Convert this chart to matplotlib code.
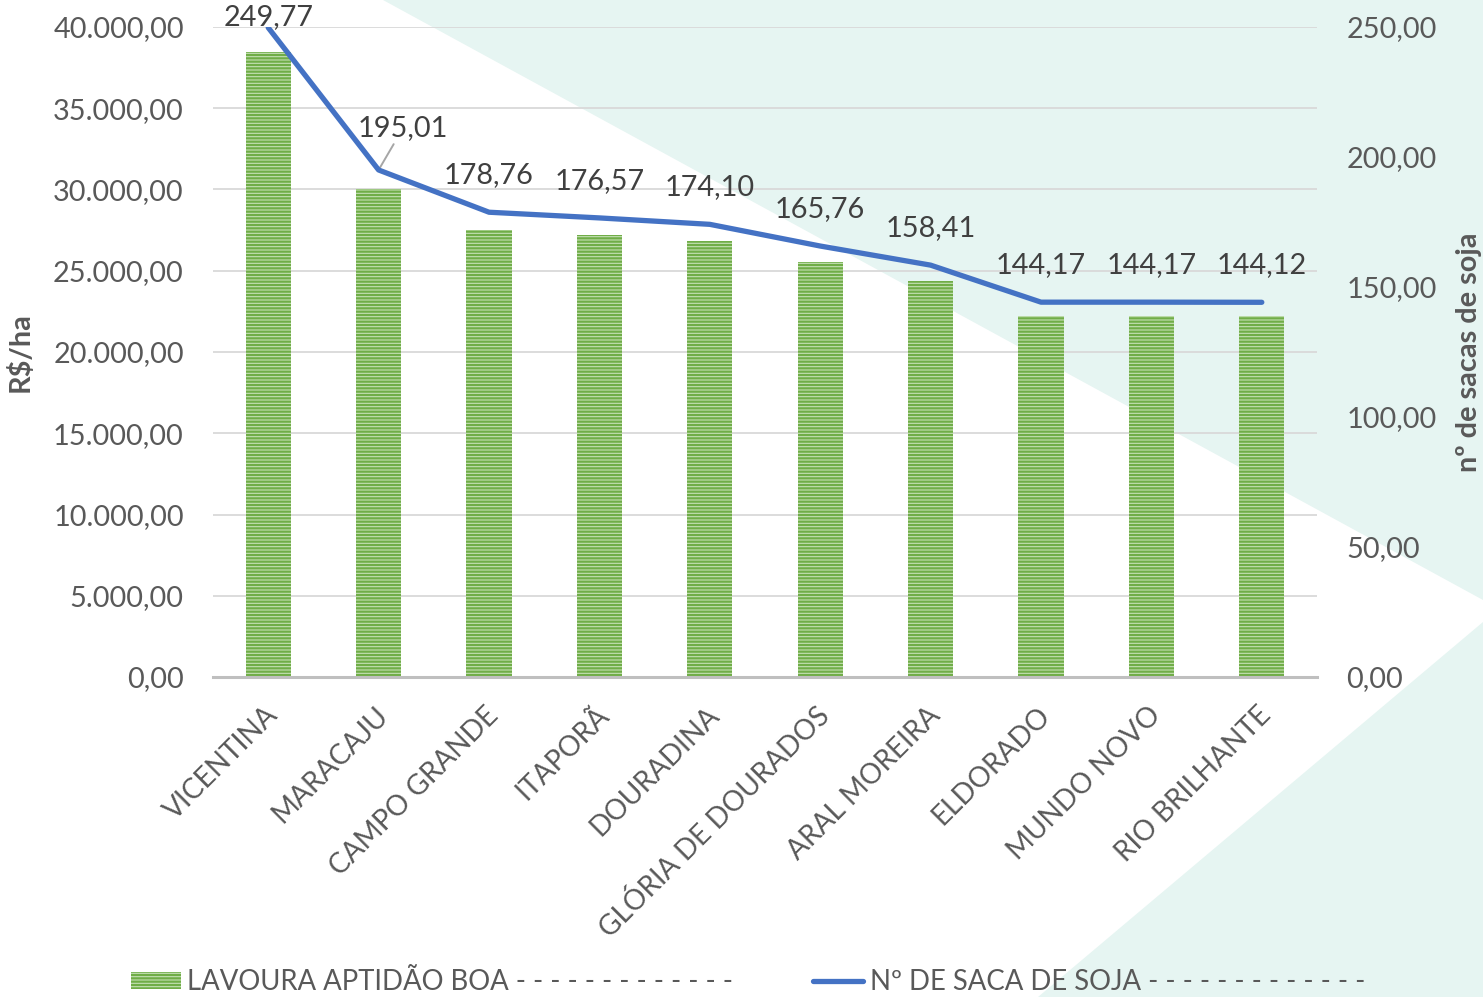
import matplotlib
matplotlib.use("Agg")
import matplotlib.pyplot as plt
from matplotlib.patches import Polygon, Patch
from matplotlib.lines import Line2D
from matplotlib.ticker import FuncFormatter, FixedLocator
import matplotlib.transforms as mtransforms

categories = ["VICENTINA", "MARACAJU", "CAMPO GRANDE", "ITAPORÃ", "DOURADINA",
              "GLÓRIA DE DOURADOS", "ARAL MOREIRA", "ELDORADO", "MUNDO NOVO", "RIO BRILHANTE"]
rs_ha = [38465, 30030, 27530, 27190, 26810, 25525, 24395, 22200, 22200, 22195]
sacas = [249.77, 195.01, 178.76, 176.57, 174.10, 165.76, 158.41, 144.17, 144.17, 144.12]
left_ticks = [0, 5000, 10000, 15000, 20000, 25000, 30000, 35000, 40000]
right_ticks = [0, 50, 100, 150, 200, 250]
legend_labels = ["LAVOURA APTIDÃO BOA - - - - - - - - - - - - -",
                 "Nº DE SACA DE SOJA - - - - - - - - - - - - -"]

plt.rcParams['font.family'] = ['Lato', 'DejaVu Sans']
plt.rcParams['hatch.linewidth'] = 1.6
FS = 20.8

W, H = 1483, 997
fig = plt.figure(figsize=(W / 100, H / 100), dpi=100)
fig.patch.set_facecolor('white')

teal = '#E6F5F2'
fig.patches.append(Polygon([(383 / W, 1), (1, 1), (1, 1 - 600 / H)], closed=True,
                           transform=fig.transFigure, facecolor=teal, edgecolor='none', zorder=-10))
fig.patches.append(Polygon([(1, 1 - 622 / H), (1, 0), (1038 / W, 0)], closed=True,
                           transform=fig.transFigure, facecolor=teal, edgecolor='none', zorder=-10))

ax = fig.add_axes([213 / W, 1 - 677 / H, (1317 - 213) / W, (677 - 27) / H])
ax.set_facecolor('none')
x = list(range(len(categories)))
ax.bar(x, rs_ha, width=0.41, facecolor='#C5E0B4', edgecolor='#70AD47',
       hatch='-----', linewidth=0, zorder=2)
ax.set_xlim(-0.5, len(categories) - 0.5)
ax.set_ylim(0, 40000)
ax.yaxis.set_major_locator(FixedLocator(left_ticks))

def fmt_left(v, pos):
    s = f"{v:,.2f}"
    return s.replace(",", "X").replace(".", ",").replace("X", ".")

ax.yaxis.set_major_formatter(FuncFormatter(fmt_left))
ax.grid(axis='y', color='#D9D9D9', linewidth=1.3, zorder=0)
ax.set_axisbelow(True)
for s in ['top', 'right', 'left']:
    ax.spines[s].set_visible(False)
ax.spines['bottom'].set_color('#BFBFBF')
ax.spines['bottom'].set_linewidth(2.2)
ax.spines['bottom'].set_zorder(3)
ax.tick_params(axis='both', length=0, labelsize=FS, labelcolor='#595959')
ax.tick_params(axis='x', labelsize=20.2)
ax.tick_params(axis='y', pad=21)
ax.set_xticks(x)
ax.set_xticklabels(categories, rotation=45, ha='right', va='top', rotation_mode='anchor')
offset = mtransforms.ScaledTranslation(-4 / 100, -20 / 100, fig.dpi_scale_trans)
for lab in ax.get_xticklabels():
    lab.set_transform(lab.get_transform() + offset)
ax.set_ylabel("R$/ha", fontsize=FS, fontweight='bold', color='#595959', labelpad=14)

ax2 = ax.twinx()
ax2.set_ylim(0, 250)
ax2.yaxis.set_major_locator(FixedLocator(right_ticks))
ax2.yaxis.set_major_formatter(FuncFormatter(lambda v, p: f"{v:.2f}".replace(".", ",")))
ax2.plot(x, sacas, color='#4472C4', linewidth=3.8, solid_capstyle='round', zorder=4)
for s in ['top', 'right', 'left', 'bottom']:
    ax2.spines[s].set_visible(False)
ax2.tick_params(axis='y', length=0, labelsize=FS, labelcolor='#595959', pad=21)
ax2.set_ylabel("nº de sacas de soja", fontsize=FS, fontweight='bold', color='#595959',
               labelpad=14)

for i, v in enumerate(sacas):
    lab = f"{v:.2f}".replace(".", ",")
    if i == 1:
        ax2.annotate(lab, xy=(i, v), xytext=(i + 0.22, v + 16), ha='center', va='center',
                     fontsize=FS, color='#404040',
                     arrowprops=dict(arrowstyle='-', color='#A6A6A6', lw=1.4,
                                     shrinkA=0, shrinkB=1))
    else:
        dy = 7.5 if i == 0 else 26.6
        ax2.annotate(lab, xy=(i, v), xytext=(0, dy), textcoords='offset points',
                     ha='center', va='center', fontsize=FS, color='#404040', zorder=5,
                     annotation_clip=False)

handles = [Patch(facecolor='#C5E0B4', edgecolor='#70AD47', hatch='-----', linewidth=0),
           Line2D([0], [0], color='#4472C4', linewidth=3.8, solid_capstyle='round')]
fig.legend(handles, legend_labels, loc='center', bbox_to_anchor=(748 / W, 1 - 982 / H), ncol=2,
           frameon=False, fontsize=19.8, labelcolor='#595959', handlelength=1.8,
           handletextpad=0.25, columnspacing=2.9, handleheight=0.6)

fig.savefig("out.png", dpi=100)
